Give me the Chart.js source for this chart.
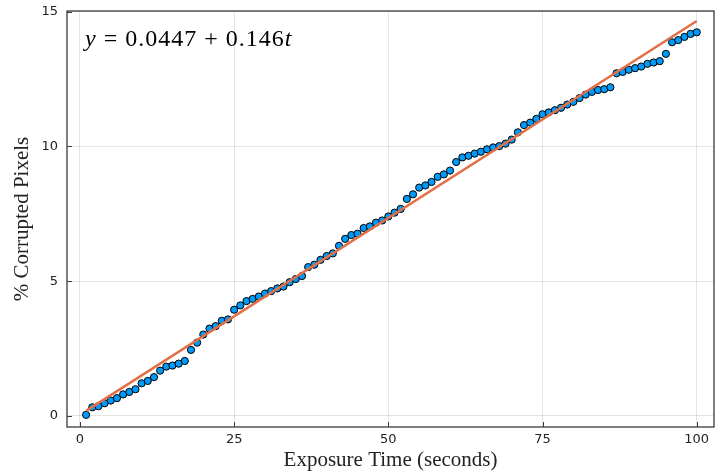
<!DOCTYPE html>
<html>
<head>
<meta charset="utf-8">
<script src="https://cdn.jsdelivr.net/npm/chart.js@4"></script>
<style>
  body { margin: 0; background: #ffffff; }
  #wrap { width: 719px; height: 471px; }
</style>
</head>
<body>
<div id="wrap"><canvas id="chart" width="719" height="471"></canvas></div>
<script>
// exposure time (seconds)
var exposureTime = [1, 2, 3, 4, 5, 6, 7, 8, 9, 10, 11, 12, 13, 14, 15, 16, 17, 18, 19, 20,
    21, 22, 23, 24, 25, 26, 27, 28, 29, 30, 31, 32, 33, 34, 35, 36, 37, 38, 39, 40,
    41, 42, 43, 44, 45, 46, 47, 48, 49, 50, 51, 52, 53, 54, 55, 56, 57, 58, 59, 60,
    61, 62, 63, 64, 65, 66, 67, 68, 69, 70, 71, 72, 73, 74, 75, 76, 77, 78, 79, 80,
    81, 82, 83, 84, 85, 86, 87, 88, 89, 90, 91, 92, 93, 94, 95, 96, 97, 98, 99, 100];

// % corrupted pixels
var corruptedPct = [0.04, 0.32, 0.36, 0.47, 0.57, 0.66, 0.80, 0.89, 0.99, 1.21,
    1.30, 1.44, 1.68, 1.83, 1.87, 1.94, 2.04, 2.45, 2.72, 3.02,
    3.24, 3.33, 3.53, 3.58, 3.94, 4.10, 4.26, 4.34, 4.43, 4.54,
    4.63, 4.73, 4.80, 4.96, 5.08, 5.19, 5.52, 5.61, 5.79, 5.93,
    6.03, 6.31, 6.57, 6.71, 6.76, 6.97, 7.03, 7.17, 7.25, 7.40,
    7.54, 7.68, 8.05, 8.22, 8.47, 8.55, 8.68, 8.87, 8.96, 9.10,
    9.42, 9.59, 9.65, 9.73, 9.80, 9.89, 9.96, 10.01, 10.10, 10.25,
    10.52, 10.79, 10.88, 11.02, 11.19, 11.26, 11.34, 11.43, 11.55, 11.65,
    11.79, 11.92, 12.02, 12.09, 12.12, 12.19, 12.71, 12.76, 12.84, 12.90,
    12.96, 13.06, 13.11, 13.16, 13.43, 13.86, 13.94, 14.06, 14.17, 14.23];

// fitted line end points
var fitX = [1, 100];
var fitY = [0.19, 14.65];

var xTicks = [0, 25, 50, 75, 100];
var yTicks = [0, 5, 10, 15];

var scatterData = exposureTime.map(function (t, i) { return { x: t, y: corruptedPct[i] }; });
var fitData = fitX.map(function (t, i) { return { x: t, y: fitY[i] }; });

// frame box, inward ticks and the fit equation
var framePlugin = {
    id: 'frame',
    afterDraw: function (chart) {
        var c = chart.ctx, a = chart.chartArea;
        var xs = chart.scales.x, ys = chart.scales.y;
        c.save();
        c.strokeStyle = '#3a3a3a';
        c.lineWidth = 1.3;
        c.strokeRect(a.left, a.top, a.right - a.left, a.bottom - a.top);
        c.lineWidth = 1;
        c.beginPath();
        xTicks.forEach(function (v) {
            var px = Math.round(xs.getPixelForValue(v)) + 0.5;
            c.moveTo(px, a.bottom); c.lineTo(px, a.bottom - 5);
        });
        yTicks.forEach(function (v) {
            var py = Math.round(ys.getPixelForValue(v)) + 0.5;
            c.moveTo(a.left, py); c.lineTo(a.left + 5, py);
        });
        c.stroke();

        // equation text
        var x0 = a.left + 18, y0 = a.top + 35;
        c.fillStyle = '#000';
        c.textBaseline = 'alphabetic';
        c.letterSpacing = '1px';
        c.font = 'italic 24px "Liberation Serif"';
        c.fillText('y', x0, y0);
        x0 += c.measureText('y').width;
        c.font = '24px "Liberation Serif"';
        var mid = ' = 0.0447 + 0.146';
        c.fillText(mid, x0, y0);
        x0 += c.measureText(mid).width;
        c.font = 'italic 24px "Liberation Serif"';
        c.fillText('t', x0, y0);
        c.restore();
    }
};

var ctx = document.getElementById('chart').getContext('2d');

var myChart = new Chart(ctx, {
    type: 'scatter',
    data: {
        datasets: [{
            label: 'data',
            data: scatterData,
            backgroundColor: '#009af9',
            borderColor: '#000000',
            borderWidth: 1,
            pointRadius: 3.6,
            order: 2
        }, {
            type: 'line',
            label: 'fit',
            data: fitData,
            borderColor: '#e26f46',
            borderWidth: 2.5,
            pointRadius: 0,
            fill: false,
            order: 1
        }]
    },
    plugins: [framePlugin],
    options: {
        responsive: false,
        devicePixelRatio: 1,
        animation: false,
        layout: { padding: { top: 11, right: 2, left: 0, bottom: 0 } },
        plugins: {
            legend: { display: false },
            tooltip: { enabled: false }
        },
        scales: {
            x: {
                type: 'linear',
                min: -2.1,
                max: 102.8,
                afterBuildTicks: function (s) { s.ticks = xTicks.map(function (v) { return { value: v }; }); },
                afterFit: function (s) { s.height = 44; s.paddingLeft = 0; s.paddingRight = 0; },
                grid: { color: 'rgba(0,0,0,0.1)', drawTicks: false },
                border: { display: false },
                ticks: {
                    padding: 5,
                    color: '#222',
                    font: { family: '"DejaVu Sans"', size: 13 }
                },
                title: {
                    display: true,
                    text: 'Exposure Time (seconds)',
                    color: '#222',
                    padding: { top: 0, bottom: 0 },
                    font: { family: '"Liberation Serif"', size: 21, lineHeight: 1.0 }
                }
            },
            y: {
                type: 'linear',
                min: -0.41,
                max: 15.02,
                afterBuildTicks: function (s) { s.ticks = yTicks.map(function (v) { return { value: v }; }); },
                afterFit: function (s) { s.width = 67; s.paddingTop = 0; s.paddingBottom = 0; },
                grid: { color: 'rgba(0,0,0,0.1)', drawTicks: false },
                border: { display: false },
                ticks: {
                    padding: 9,
                    color: '#222',
                    font: { family: '"DejaVu Sans"', size: 13 }
                },
                title: {
                    display: true,
                    text: '% Corrupted Pixels',
                    color: '#222',
                    padding: { top: 10, bottom: 0 },
                    font: { family: '"Liberation Serif"', size: 21 }
                }
            }
        }
    }
});
</script>
</body>
</html>
